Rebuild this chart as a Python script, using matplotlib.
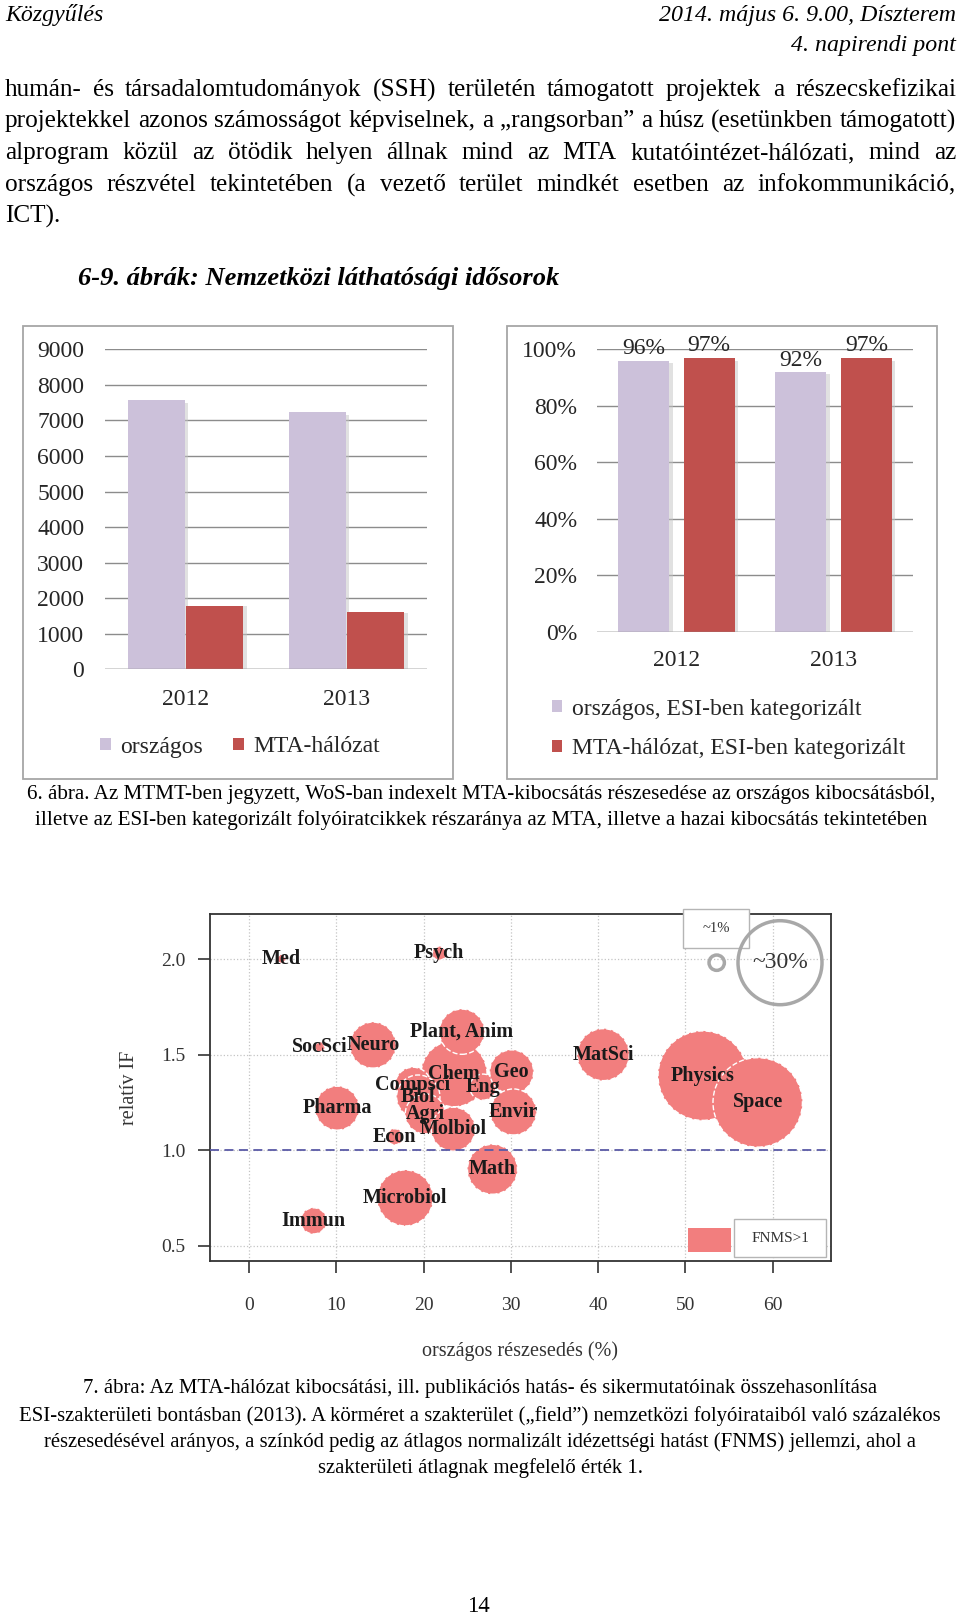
import matplotlib
matplotlib.use("Agg")
import matplotlib.pyplot as plt
from matplotlib.patches import Rectangle, Circle
from matplotlib.ticker import PercentFormatter
import numpy as np

W, H = 960, 1622
SERIF = "Liberation Serif"
plt.rcParams["font.family"] = SERIF

# --- data -------------------------------------------------------------
years = ["2012", "2013"]
orszagos = [7570, 7230]          # WoS-indexed national output
mta = [1790, 1600]               # MTA network output
esi_orszagos = [0.96, 0.92]      # share categorized in ESI, national
esi_mta = [0.97, 0.97]           # share categorized in ESI, MTA network

fields = ["Med", "Psych", "SocSci", "Neuro", "Chem", "Plant, Anim", "Compsci",
          "Biol", "Eng", "Geo", "Envir", "Pharma", "Agri", "Econ", "Molbiol",
          "Math", "Microbiol", "Immun", "MatSci", "Physics", "Space"]
share_x = [3.7, 21.8, 8.1, 14.2, 23.5, 24.4, 18.8,
           19.4, 26.8, 30.1, 30.3, 10.1, 20.2, 16.7, 23.4,
           27.9, 17.9, 7.4, 40.6, 52.0, 58.3]
rel_if = [2.00, 2.03, 1.54, 1.55, 1.40, 1.62, 1.34,
          1.28, 1.33, 1.41, 1.20, 1.22, 1.19, 1.07, 1.11,
          0.90, 0.75, 0.63, 1.50, 1.39, 1.25]
field_share = [0.3, 0.8, 0.4, 9.0, 18.5, 8.7, 5.5,
               8.0, 2.9, 8.2, 9.0, 8.2, 6.8, 1.1, 8.2,
               10.6, 13.3, 2.9, 11.5, 34.0, 34.0]

body = [
    "humán- és társadalomtudományok (SSH) területén támogatott projektek a részecskefizikai",
    "projektekkel azonos számosságot képviselnek, a „rangsorban” a húsz (esetünkben támogatott)",
    "alprogram közül az ötödik helyen állnak mind az MTA kutatóintézet-hálózati, mind az",
    "országos részvétel tekintetében (a vezető terület mindkét esetben az infokommunikáció,",
    "ICT).",
]
caption6 = [
    "6. ábra. Az MTMT-ben jegyzett, WoS-ban indexelt MTA-kibocsátás részesedése az országos kibocsátásból,",
    "illetve az ESI-ben kategorizált folyóiratcikkek részaránya az MTA, illetve a hazai kibocsátás tekintetében",
]
caption7 = [
    "7. ábra: Az MTA-hálózat kibocsátási, ill. publikációs hatás- és sikermutatóinak összehasonlítása",
    "ESI-szakterületi bontásban (2013). A körméret a szakterület („field”) nemzetközi folyóirataiból való százalékos",
    "részesedésével arányos, a színkód pedig az átlagos normalizált idézettségi hatást (FNMS) jellemzi, ahol a",
    "szakterületi átlagnak megfelelő érték 1.",
]

LAVENDER = "#CCC1DA"
RED = "#C0504D"
BUBBLE = "#F27E7E"
TXT = "#262626"
R30 = 42.0  # px radius of a ~30% circle


def rect(l, t, r, b):
    return [l / W, 1 - b / H, (r - l) / W, (b - t) / H]


fig = plt.figure(figsize=(W / 100, H / 100), dpi=100)
page = fig.add_axes([0, 0, 1, 1], zorder=10)
page.set_xlim(0, W)
page.set_ylim(H, 0)
page.set_facecolor("none")
page.axis("off")
renderer = fig.canvas.get_renderer()


def text_width(s, size, **kw):
    t = page.text(0, 0, s, fontsize=size, **kw)
    w = t.get_window_extent(renderer).width
    t.remove()
    return w


def fit(s, target, **kw):
    return 10 * target / text_width(s, 10, **kw)


def justified(line, y, x0, x1, size):
    words = line.split(" ")
    widths = [text_width(w, size) for w in words]
    gap = (x1 - x0 - sum(widths)) / (len(words) - 1)
    x = x0
    for w, wd in zip(words, widths):
        page.text(x, y, w, fontsize=size, ha="left", va="center")
        x += wd + gap


# --- page text --------------------------------------------------------
hsize = fit("2014. május 6. 9.00, Díszterem", 297, style="italic")
page.text(5, 15, "Közgyűlés", fontsize=hsize, style="italic", va="center")
page.text(956, 15, "2014. május 6. 9.00, Díszterem", fontsize=hsize,
          style="italic", ha="right", va="center")
page.text(956, 46, "4. napirendi pont", fontsize=hsize, style="italic",
          ha="right", va="center")

bsize = min(fit(l, 951) for l in body[:4])
for i, (line, y) in enumerate(zip(body, [90, 121, 153, 185, 216])):
    if i < 4:
        justified(line, y, 5, 956, bsize)
    else:
        page.text(5, y, line, fontsize=bsize, va="center")

tsize = fit("6-9. ábrák: Nemzetközi láthatósági idősorok", 482,
            style="italic", weight="bold")
page.text(78, 278, "6-9. ábrák: Nemzetközi láthatósági idősorok",
          fontsize=tsize, style="italic", weight="bold", va="center")

c6 = fit(caption6[0], 910)
for line, y in zip(caption6, [794, 820]):
    page.text(481, y, line, fontsize=c6, ha="center", va="center")
c7 = fit(caption7[1], 927)
for line, y in zip(caption7, [1389, 1416, 1442, 1468]):
    page.text(480, y, line, fontsize=c7, ha="center", va="center")
page.text(478, 1606, "14", fontsize=c7 * 1.1, ha="center", va="center")

# chart frames
for l in (23, 507):
    page.add_patch(Rectangle((l, 326), 430, 453, fill=False,
                             ec="#a6a6a6", lw=1.3))

# --- chart 1: output counts -------------------------------------------
ax1 = fig.add_axes(rect(105, 349.3, 427, 669.3))
x = np.arange(len(years))
bw = 0.354
for off, vals, col, lab in [(-bw / 2 - 0.005, orszagos, LAVENDER, "országos"),
                            (bw / 2 + 0.005, mta, RED, "MTA-hálózat")]:
    ax1.bar(x + off + 0.022, np.array(vals) * 0.99, bw, color="#c4c4c4",
            alpha=0.5, zorder=1)
    ax1.bar(x + off, vals, bw, color=col, zorder=2, label=lab)
ax1.set_xlim(-0.5, 1.5)
ax1.set_ylim(0, 9000)
ax1.set_yticks(range(0, 9001, 1000))
ax1.set_xticks(x, years)
ax1.yaxis.grid(True, color="#8c8c8c", lw=1, zorder=0)
ax1.set_axisbelow(True)
ax1.axhline(0, color="#8c8c8c", lw=1, zorder=3)
for s in ax1.spines.values():
    s.set_visible(False)
ax1.tick_params(axis="both", length=0, labelsize=17, labelcolor=TXT)
ax1.tick_params(axis="y", pad=15)
ax1.tick_params(axis="x", pad=14)
ax1.legend(ncol=2, loc="center", bbox_to_anchor=(240 / W, 1 - 747 / H),
           bbox_transform=fig.transFigure, frameon=False, fontsize=17,
           handlelength=0.45, handleheight=0.45, handletextpad=0.4,
           columnspacing=1.3, labelcolor=TXT)

# --- chart 2: ESI categorized share -----------------------------------
ax2 = fig.add_axes(rect(596.7, 349.3, 913.3, 631.7))
bw2 = 0.324
for off, vals, col, lab in [(-0.208, esi_orszagos, LAVENDER,
                             "országos, ESI-ben kategorizált"),
                            (0.208, esi_mta, RED,
                             "MTA-hálózat, ESI-ben kategorizált")]:
    ax2.bar(x + off + 0.022, np.array(vals) * 0.99, bw2, color="#c4c4c4",
            alpha=0.5, zorder=1)
    bars = ax2.bar(x + off, vals, bw2, color=col, zorder=2, label=lab)
    ax2.bar_label(bars, labels=[f"{v:.0%}" for v in vals], padding=1,
                  fontsize=17, color=TXT)
ax2.set_xlim(-0.506, 1.506)
ax2.set_ylim(0, 1)
ax2.set_yticks(np.linspace(0, 1, 6))
ax2.yaxis.set_major_formatter(PercentFormatter(1.0, decimals=0))
ax2.set_xticks(x, years)
ax2.yaxis.grid(True, color="#8c8c8c", lw=1, zorder=0)
ax2.set_axisbelow(True)
ax2.axhline(0, color="#8c8c8c", lw=1, zorder=3)
for s in ax2.spines.values():
    s.set_visible(False)
ax2.tick_params(axis="both", length=0, labelsize=17, labelcolor=TXT)
ax2.tick_params(axis="y", pad=14)
ax2.tick_params(axis="x", pad=13)
ax2.legend(loc="center left", bbox_to_anchor=(540 / W, 1 - 729 / H),
           bbox_transform=fig.transFigure, frameon=False, fontsize=17,
           handlelength=0.45, handleheight=0.45, handletextpad=0.4,
           labelspacing=0.8, borderpad=0, labelcolor=TXT)

# --- chart 3: bubble chart --------------------------------------------
ax3 = fig.add_axes(rect(210, 914, 831, 1261))
ax3.set_facecolor("none")
r_px = R30 * np.sqrt(np.array(field_share) / 30)
sizes = (2 * r_px * 0.72) ** 2
ax3.scatter(share_x, rel_if, s=sizes, color=BUBBLE, edgecolors="white",
            linewidths=1, linestyle="--", zorder=2)
for name, xv, yv in zip(fields, share_x, rel_if):
    ax3.text(xv, yv, name, ha="center", va="center", fontsize=14.5,
             weight="bold", color="#1a1a1a", zorder=4)
ax3.axhline(1.0, color="#5a5aa6", lw=1.3, ls=(0, (5, 3)), zorder=3)
ax3.set_xlim(-4.47, 66.7)
ax3.set_ylim(0.42, 2.236)
ax3.set_xticks(range(0, 61, 10))
ax3.set_yticks([0.5, 1.0, 1.5, 2.0])
ax3.grid(True, ls=":", color="#c4c4c4", lw=0.9, zorder=0)
ax3.set_axisbelow(True)
for s in ax3.spines.values():
    s.set_color("#333333")
    s.set_linewidth(1.3)
ax3.tick_params(length=8.6, width=1.2, color="#333333", labelsize=14,
                labelcolor="#333333")
ax3.tick_params(axis="x", pad=17)
ax3.tick_params(axis="y", pad=9)
ax3.set_xlabel("országos részesedés (%)", fontsize=14.5, color="#333333")
ax3.xaxis.set_label_coords(0.5, -(1341 - 1261) / 347)
ax3.set_ylabel("relatív IF", fontsize=14.5, color="#333333")
ax3.yaxis.set_label_coords(-(210 - 139) / 621, 0.5)

# bubble size key and colour key
page.add_patch(Rectangle((683, 909), 66, 39, fc="white", ec="#b5b5b5", lw=1))
page.text(716, 928, "~1%", fontsize=10.5, ha="center", va="center",
          color="#333333")
page.add_patch(Circle((716.7, 962.7), R30 * np.sqrt(1 / 30), fill=False,
                      ec="#a8a8a8", lw=2.5))
page.add_patch(Circle((780, 962.7), R30, fill=False, ec="#a8a8a8", lw=2.5))
page.text(780, 962, "~30%", fontsize=17, ha="center", va="center",
          color="#333333")
page.add_patch(Rectangle((688, 1228), 43, 24, fc=BUBBLE, ec="none"))
page.add_patch(Rectangle((734, 1219), 92, 38, fc="white", ec="#b5b5b5", lw=1))
page.text(780, 1238, "FNMS>1", fontsize=11, ha="center", va="center",
          color="#333333")

fig.savefig("out.png", dpi=100)
